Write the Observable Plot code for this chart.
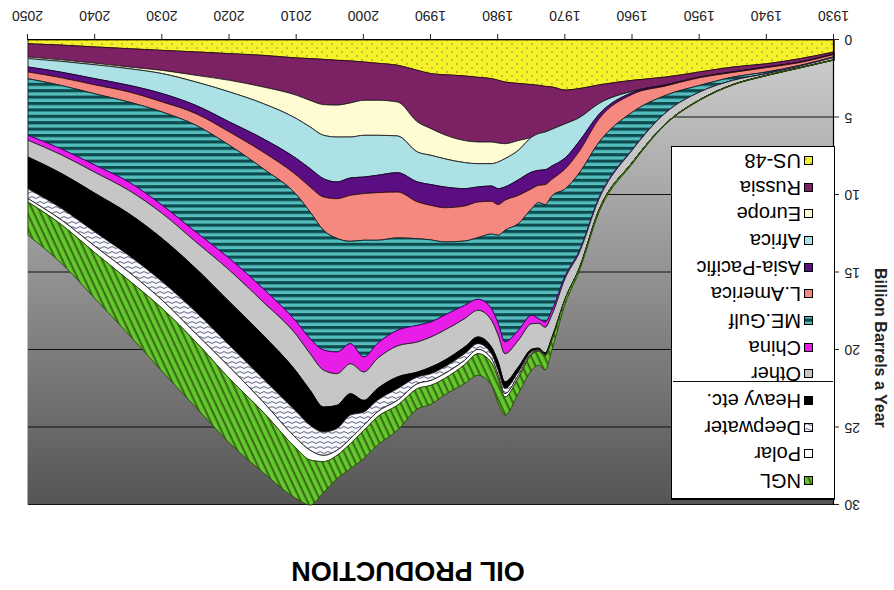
<!DOCTYPE html>
<html>
<head>
<meta charset="utf-8">
<script src="https://cdn.jsdelivr.net/npm/d3@7"></script>
<script src="https://cdn.jsdelivr.net/npm/@observablehq/plot@0.6"></script>
<style>
  html, body { margin: 0; padding: 0; background: #fff; overflow: hidden; }
  #wrap { position: relative; width: 894px; height: 590px; transform: rotate(180deg); transform-origin: 50% 50%; background: #fff; overflow: hidden; font-family: "Liberation Sans", Arial, sans-serif; }
  #title { position: absolute; left: 486px; top: 4px; transform: translateX(-50%); font-weight: bold; font-size: 27px; white-space: nowrap; color: #000; }
  #chart { position: absolute; left: 0; top: 40px; width: 894px; height: 550px; }
  #legend { position: absolute; left: 59px; top: 90px; width: 164px; height: 354px; background: #fff; border: 1px solid #000; border-top: 2px solid #000; box-sizing: border-box; padding-top: 4px; }
  .row { position: relative; height: 26.7px; display: flex; align-items: center; font-size: 20px; color: #000; white-space: nowrap; }
  .row svg { margin-left: 21px; margin-right: 3px; flex: none; }
  #sep { position: absolute; left: 1px; top: 116px; width: 160px; height: 0; border-top: 1.5px solid #111; }
</style>
</head>
<body>
<div id="wrap">
  <div id="title">OIL PRODUCTION</div>
  <div id="chart"></div>
  <div id="legend"><div id="sep"></div></div>
</div>
<script>
// ---- data (billion barrels a year) ----
const years = [1930,1935,1940,1945,1950,1955,1960,1965,1968,1970,1972,1973,1974,1975,1977,1979,1980,1981,1983,1985,1988,1990,1992,1995,1998,2000,2002,2004,2006,2008,2010,2015,2020,2025,2030,2035,2040,2045,2050];
const us48       = [.77,1.2,1.53,1.74,2.06,2.39,2.6,2.9,3.14,3.23,3.03,2.99,2.92,2.88,2.8,2.71,2.6,2.49,2.41,2.32,2.24,2.17,1.96,1.63,1.5,1.42,1.35,1.31,1.25,1.2,1.16,.99,.88,.77,.67,.56,.45,.33,.24];
const russia     = [.13,.22,.21,.32,.33,.5,.7,1.2,1.89,2.17,2.73,2.95,3.12,3.38,3.69,3.98,4.05,4.09,4.17,4.17,3.87,3.55,3.33,2.37,2.39,2.47,2.71,2.89,2.92,2.7,2.41,2.04,1.72,1.51,1.29,1.18,1.05,.95,.86];
const europe     = [0,0,0,0,0,0,0,0,0,0,0,0,0,0,.63,.97,1.22,1.4,1.4,1.42,1.55,1.72,1.94,2.19,2.26,2.26,2.2,2.06,1.98,1.71,1.51,1.07,.75,.43,.21,.11,.1,.1,.1];
const africa     = [0,0,0,0,.01,.02,.08,.7,1.55,2.2,2.37,2.43,2.37,2.26,1.9,1.82,1.72,1.44,1.5,1.68,1.82,1.89,1.93,2.37,2.58,2.69,2.64,2.9,2.8,2.69,2.58,2.27,1.94,1.51,1.29,1.07,.9,.7,.54];
const asiaPacific= [.03,.03,.04,.03,.03,.05,.12,.3,.65,.7,.86,.96,.97,1.07,1.01,.86,1.03,.99,.97,1.12,1.34,1.34,1.29,1.25,1.12,1.07,1.12,1.08,1.18,1.18,1.07,.86,.65,.53,.54,.43,.4,.36,.32];
const lAmerica   = [.15,.18,.28,.3,.5,.6,1.15,1.5,1.4,1.3,1.07,1.29,1.11,1.29,1.82,1.94,1.98,2.11,2.3,2.26,2.21,2.23,2.37,2.96,3.07,3.01,2.97,2.56,2.15,1.62,1.27,1.07,.86,.75,.65,.65,.58,.5,.44];
const meGulf     = [.05,.05,.11,.21,.43,1.1,2.4,3.6,5.07,5.6,7.38,7.57,7.49,6.88,6.88,7.2,5.7,4.81,3.98,4.15,4.73,5.29,5.59,5.96,6.67,7.53,6.6,7.33,7.72,8.17,8.2,7.74,7.3,6.89,6.02,5.16,4.6,4.1,3.65];
const china      = [0,0,0,0,0,.01,.03,.08,.1,.15,.3,.35,.3,.54,.65,.76,.75,.76,.71,.86,.97,.97,1.07,1.01,.97,.97,1.3,1.4,1.3,.97,.85,.86,.76,.64,.53,.54,.47,.38,.32];
const other      = [.15,.1,.11,.27,.5,.7,.8,.7,1.0,1.3,1.45,1.65,1.6,1.65,1.72,1.82,1.72,1.72,1.72,1.83,1.94,1.94,1.94,2.0,1.94,1.83,1.93,2.04,2.38,2.36,2.37,2.15,2.04,1.72,1.62,1.5,1.35,1.2,1.08];
const heavy      = [0,0,0,0,0,0,0,0,.02,.05,.1,.1,.1,.15,.32,.43,.54,.43,.43,.43,.43,.43,.32,.76,.75,.75,1.38,1.5,1.61,2.26,2.58,2.8,2.8,2.8,2.78,2.7,2.5,2.25,2.05];
const deepwater  = [0,0,0,0,0,0,0,0,0,0,.05,.05,.05,.1,.21,.33,.32,.32,.37,.43,.43,.43,.43,.75,.75,.86,1.52,1.4,1.51,1.61,1.72,1.5,1.4,1.4,1.2,1.07,.92,.75,.64];
const polar      = [0,0,0,0,0,0,0,0,0,0,.05,.05,.05,.08,.18,.21,.22,.26,.28,.28,.32,.32,.32,.32,.32,.32,.32,.33,.4,.63,.65,.65,.75,.53,.53,.53,.42,.3,.21];
const ngl        = [.02,.02,.02,.03,.04,.05,.1,.15,.18,.3,.61,.9,.9,1.02,1.01,1.17,1.61,1.46,1.39,1.22,1.05,1.22,1.31,1.61,1.83,1.82,1.62,1.5,2.0,2.9,3.23,3.9,4.15,4.22,4.07,3.5,2.96,2.5,2.15];

// stacking order, bottom (0) to top
const seriesNames = ["US-48","Russia","Europe","Africa","Asia-Pacific","L.America","ME.Gulf","China","Other","Heavy etc.","Deepwater","Polar","NGL"];
const seriesValues = [us48,russia,europe,africa,asiaPacific,lAmerica,meGulf,china,other,heavy,deepwater,polar,ngl];
const seriesFills = ["url(#pUS)","#7b2164","#fffbd2","#ace2e6","#5b0e82","#f5897f","url(#pME)","#e81ee8","#c6c6c6","#000000","url(#pDW)","#ffffff","url(#pNGL)"];
const seriesStrokes = ["#3a2a00","#2a0a20","#222","#222","#1a0030","#3a1010","#0a2a30","#3a006a","#222","#000","#222","#222","#2a4a08"];

const xTicks = [1930,1940,1950,1960,1970,1980,1990,2000,2010,2020,2030,2040,2050];
const yTicks = [0,5,10,15,20,25,30];
const gridLevels = [5,10,15,20,25,30];
const yLabel = "Billion Barrels a Year";

// long table for the stack
const table = seriesNames.flatMap((name, i) => years.map((year, j) => ({year, series: name, value: seriesValues[i][j]})));

const chart = Plot.plot({
  width: 894,
  height: 550,
  marginLeft: 60,
  marginRight: 28,
  marginTop: 45,
  marginBottom: 40,
  style: {fontFamily: "'Liberation Sans', Arial, sans-serif", fontSize: "14px", color: "#222", background: "transparent", overflow: "visible"},
  x: {domain: [1930, 2050]},
  y: {domain: [0, 30]},
  color: {domain: seriesNames, range: seriesFills},
  marks: [
    Plot.frame({fill: "url(#bgGrad)", stroke: null}),
    Plot.ruleY(gridLevels, {stroke: "#111", strokeWidth: 1}),
    Plot.areaY(table, Plot.stackY({
      x: "year", y: "value", z: "series", fill: "series",
      order: seriesNames,
      stroke: d => seriesStrokes[seriesNames.indexOf(d.series)],
      strokeWidth: 0.9,
      curve: "monotone-x"
    })),
    Plot.ruleY([0], {stroke: "#000", strokeWidth: 1.2}),
    Plot.ruleX([1930], {stroke: "#000", strokeWidth: 1.2}),
    Plot.axisX({ticks: xTicks, tickFormat: d => String(d), tickSize: 6, tickPadding: 13, label: null, fontSize: 14}),
    Plot.axisY({ticks: yTicks, tickSize: 5, tickPadding: 6, label: null, fontSize: 14}),
    Plot.text([yLabel], {frameAnchor: "left", rotate: -90, dx: -47, dy: 4, fontWeight: "bold", fontSize: 16, fill: "#222"})
  ]
});

// patterns and the background gradient
const svg = d3.select(chart);
const defs = svg.insert("defs", ":first-child");
const grad = defs.append("linearGradient").attr("id", "bgGrad").attr("x1", 0).attr("y1", 0).attr("x2", 0).attr("y2", 1);
grad.append("stop").attr("offset", "0%").attr("stop-color", "#555555");
grad.append("stop").attr("offset", "100%").attr("stop-color", "#d0d0d0");

const pUS = defs.append("pattern").attr("id", "pUS").attr("width", 10).attr("height", 8).attr("patternUnits", "userSpaceOnUse");
pUS.append("rect").attr("width", 10).attr("height", 8).attr("fill", "#f6f229");
pUS.append("circle").attr("cx", 2).attr("cy", 2).attr("r", 0.75).attr("fill", "#7c7a50");
pUS.append("circle").attr("cx", 7).attr("cy", 6).attr("r", 0.75).attr("fill", "#7c7a50");

const pME = defs.append("pattern").attr("id", "pME").attr("width", 8).attr("height", 6.4).attr("patternUnits", "userSpaceOnUse");
pME.append("rect").attr("width", 8).attr("height", 6.4).attr("fill", "#55bdbd");
pME.append("rect").attr("y", 3.3).attr("width", 8).attr("height", 3.1).attr("fill", "#0b4b4e");

const pDW = defs.append("pattern").attr("id", "pDW").attr("width", 8).attr("height", 5).attr("patternUnits", "userSpaceOnUse");
pDW.append("rect").attr("width", 8).attr("height", 5).attr("fill", "#f8f8ff");
pDW.append("path").attr("d", "M0 2.5 Q2 0.6 4 2.5 T8 2.5").attr("fill", "none").attr("stroke", "#3a3a5c").attr("stroke-width", 0.8);

const pNGL = defs.append("pattern").attr("id", "pNGL").attr("width", 6).attr("height", 6).attr("patternUnits", "userSpaceOnUse").attr("patternTransform", "rotate(-25)");
pNGL.append("rect").attr("width", 6).attr("height", 6).attr("fill", "#62c92e");
pNGL.append("rect").attr("width", 2.2).attr("height", 6).attr("fill", "#3e6e15");

document.getElementById("chart").appendChild(chart);

// legend (top row = top of stack)
const legend = document.getElementById("legend");
for (let i = seriesNames.length - 1; i >= 0; i--) {
  const row = document.createElement("div");
  row.className = "row";
  row.innerHTML = `<svg width="9" height="9"><rect x="0.5" y="0.5" width="8" height="8" fill="${seriesFills[i]}" stroke="#000" stroke-width="1"/></svg><span>${seriesNames[i]}</span>`;
  legend.appendChild(row);
}
</script>
</body>
</html>
